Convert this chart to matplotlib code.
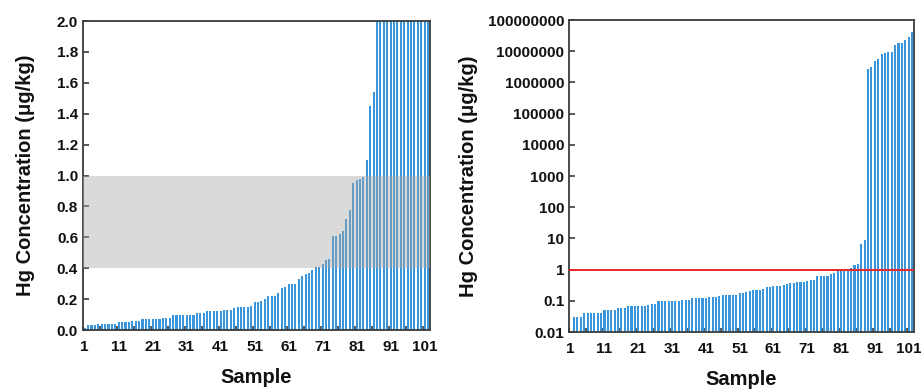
import numpy as np
import matplotlib.pyplot as plt
from matplotlib.ticker import FixedLocator, FuncFormatter

plt.rcParams['font.family'] = ['Liberation Sans', 'DejaVu Sans']
plt.rcParams['font.weight'] = 'bold'

# Hg concentrations (ug/kg), sorted, 102 samples
hg = [0.01, 0.03, 0.03, 0.03, 0.04, 0.04, 0.04, 0.04, 0.04, 0.04,
      0.05, 0.05, 0.05, 0.05, 0.06, 0.06, 0.06, 0.07, 0.07, 0.07,
      0.07, 0.07, 0.07, 0.075, 0.08, 0.08, 0.10, 0.10, 0.10, 0.10,
      0.10, 0.10, 0.10, 0.11, 0.11, 0.11, 0.12, 0.12, 0.12, 0.12,
      0.12, 0.13, 0.13, 0.13, 0.14, 0.15, 0.15, 0.15, 0.15, 0.155,
      0.18, 0.18, 0.19, 0.20, 0.22, 0.22, 0.22, 0.24, 0.27, 0.28,
      0.30, 0.30, 0.30, 0.33, 0.35, 0.36, 0.37, 0.39, 0.41, 0.41,
      0.43, 0.45, 0.46, 0.61, 0.61, 0.62, 0.64, 0.72, 0.78, 0.95,
      0.97, 0.98, 0.99, 1.10, 1.45, 1.54, 6.5, 9.2,
      2.6e6, 3.2e6, 4.7e6, 5.7e6, 8.1e6, 8.5e6, 9.4e6, 9.4e6,
      1.6e7, 1.8e7, 1.87e7, 2.28e7, 2.78e7, 4.1e7]
samples = np.arange(1, len(hg) + 1)
xtick_labels = list(range(1, 102, 10))
band = (0.4, 1.0)      # reference range shaded on the linear panel
limit = 1.0            # red guide line on the log panel
log_ticks = [1e-2, 1e-1, 1, 10, 100, 1e3, 1e4, 1e5, 1e6, 1e7, 1e8]

bar_color = '#3a96dc'
spine_color = '#3c3c3c'
txt = '#111111'

fig = plt.figure(figsize=(9.21, 3.9), dpi=100)
ax1 = fig.add_axes([0.0901, 0.1538, 0.3768, 0.7923])
ax2 = fig.add_axes([0.6178, 0.1487, 0.3746, 0.8000])

for ax in (ax1, ax2):
    ax.bar(samples, hg, width=0.62, color=bar_color, linewidth=0, zorder=2)
    ax.set_xlim(0.5, 102.6)
    ax.set_xticks(xtick_labels)
    ax.xaxis.set_minor_locator(FixedLocator(np.arange(0.5, 103, 5)))
    ax.tick_params(axis='x', which='major', length=0, pad=7,
                   labelsize=11, colors=txt)
    ax.tick_params(axis='x', which='minor', direction='in', length=3,
                   width=1.2, color=spine_color)
    ax.tick_params(axis='y', which='major', direction='in', length=4,
                   width=1.2, color=spine_color, labelsize=11,
                   labelcolor=txt)
    for lab in ax.get_xticklabels() + ax.get_yticklabels():
        lab.set_fontweight('bold')
    for s in ax.spines.values():
        s.set_color(spine_color)
        s.set_linewidth(1.3)
    ax.set_xlabel('Sample', fontsize=14.5, fontweight='bold', labelpad=10,
                  color=txt)
    ax.set_ylabel('Hg Concentration (μg/kg)', fontsize=14.5,
                  fontweight='bold', color=txt)

# linear panel
ax1.set_ylim(0, 2.0)
ax1.set_yticks(np.arange(0, 2.01, 0.2))
ax1.yaxis.set_major_formatter(FuncFormatter(lambda v, p: f'{v:.1f}'))
ax1.axhspan(band[0], band[1], color='#a8a8a8', alpha=0.42, lw=0, zorder=3)
ax1.yaxis.labelpad = 16

# log panel
ax2.set_yscale('log')
ax2.set_ylim(1e-2, 1e8)
ax2.yaxis.set_major_locator(FixedLocator(log_ticks))
ax2.yaxis.set_minor_locator(FixedLocator([]))
ax2.yaxis.set_major_formatter(FuncFormatter(lambda v, p: f'{v:g}' if v < 1 else f'{int(round(v))}'))
ax2.axhline(limit, color='#e8262a', lw=1.4, zorder=3)
ax2.yaxis.labelpad = 7

fig.savefig('out.png', dpi=100)
